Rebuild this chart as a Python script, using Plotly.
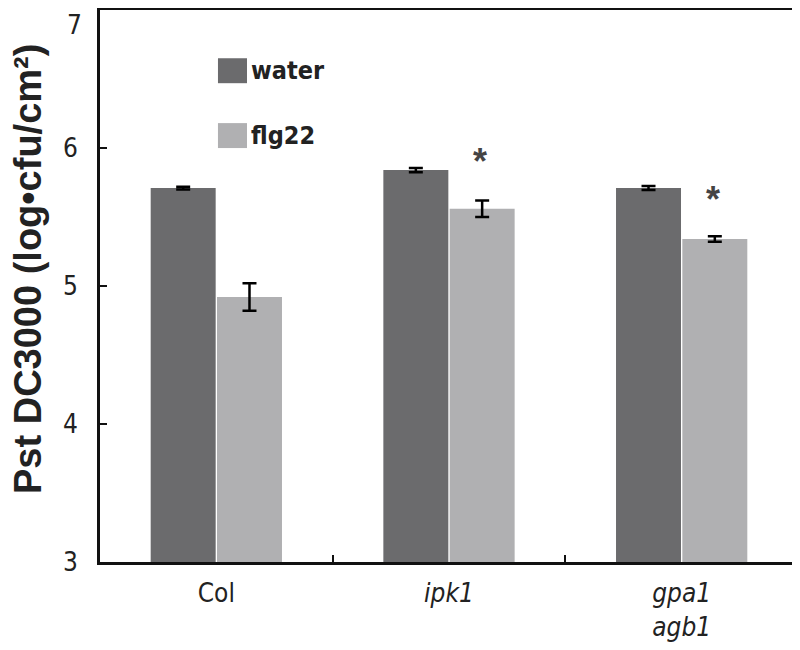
import plotly.graph_objects as go

categories = ["Col", "<i>ipk1</i>", "<i>gpa1</i><br><i>agb1</i>"]
water = [5.71, 5.84, 5.71]
water_err = [0.01, 0.015, 0.015]
flg22 = [4.92, 5.56, 5.34]
flg22_err = [0.10, 0.06, 0.02]
star_cats = ["<i>ipk1</i>", "<i>gpa1</i><br><i>agb1</i>"]
star_y = [5.90, 5.63]
series_names = ["water", "flg22"]
series_colors = ["#6b6b6d", "#b0b0b2"]

NARROW = "DejaVu Sans Condensed, Liberation Sans Narrow, Arial Narrow, sans-serif"

fig = go.Figure()
for name, vals, errs, col in zip(series_names, [water, flg22], [water_err, flg22_err], series_colors):
    fig.add_trace(go.Bar(
        x=categories, y=vals, name=name, showlegend=False,
        marker=dict(color=col, line=dict(width=0)),
        error_y=dict(type="data", array=errs, color="black", thickness=2.5, width=7),
    ))

for c, y in zip(star_cats, star_y):
    fig.add_annotation(x=c, y=y, text="<b>*</b>", showarrow=False, xshift=31,
                       font=dict(size=36, color="#444", family="Arial"))

# custom legend (large square swatches)
for i, (name, col) in enumerate(zip(series_names, series_colors)):
    yc = 0.890 - i * 0.1175
    fig.add_shape(type="rect", xref="paper", yref="paper",
                  x0=0.169, x1=0.2106, y0=yc - 0.0226, y1=yc + 0.0226,
                  fillcolor=col, line=dict(width=0))
    fig.add_annotation(xref="paper", yref="paper", x=0.213, y=yc, text="<b>" + name + "</b>",
                       showarrow=False, xanchor="left", yanchor="middle",
                       font=dict(size=25, family=NARROW, color="#222"))

# top tick label (drawn slightly inside, as in the original)
fig.add_annotation(xref="paper", yref="y", x=0, y=7, text="7", showarrow=False,
                   xanchor="right", yanchor="top", xshift=-16, yshift=2,
                   font=dict(size=26, family=NARROW, color="#222"))

# y-axis title
fig.add_annotation(xref="paper", yref="paper", x=0, y=0.5, xshift=-72, yshift=17,
                   text="<b>Pst DC3000 (log•cfu/cm²)</b>", textangle=-90,
                   showarrow=False, xanchor="center", yanchor="middle", borderpad=0,
                   font=dict(size=38, family="Arial, Liberation Sans, sans-serif", color="#222"))

fig.update_layout(
    width=792, height=642,
    paper_bgcolor="white", plot_bgcolor="white",
    margin=dict(l=92, r=2, t=2, b=88),
    barmode="group", bargap=0.43, bargroupgap=0.02,
    font=dict(family=NARROW, color="#222"),
)
fig.update_xaxes(
    type="category", showline=True, linecolor="#111", linewidth=3, mirror=True,
    ticks="inside", tickson="boundaries", ticklen=7, tickwidth=2, tickcolor="#111",
    tickfont=dict(size=26, family=NARROW, color="#222"), showgrid=False,
    ticklabelstandoff=6, automargin=False,
)
fig.update_yaxes(
    range=[3, 7], tickvals=[3, 4, 5, 6], showline=True, linecolor="#111", linewidth=3, mirror=True,
    ticks="inside", ticklen=7, tickwidth=2, tickcolor="#111",
    tickfont=dict(size=26, family=NARROW, color="#222"), showgrid=False, zeroline=False,
    ticklabelstandoff=14, automargin=False,
)
fig.write_html("out.html")
